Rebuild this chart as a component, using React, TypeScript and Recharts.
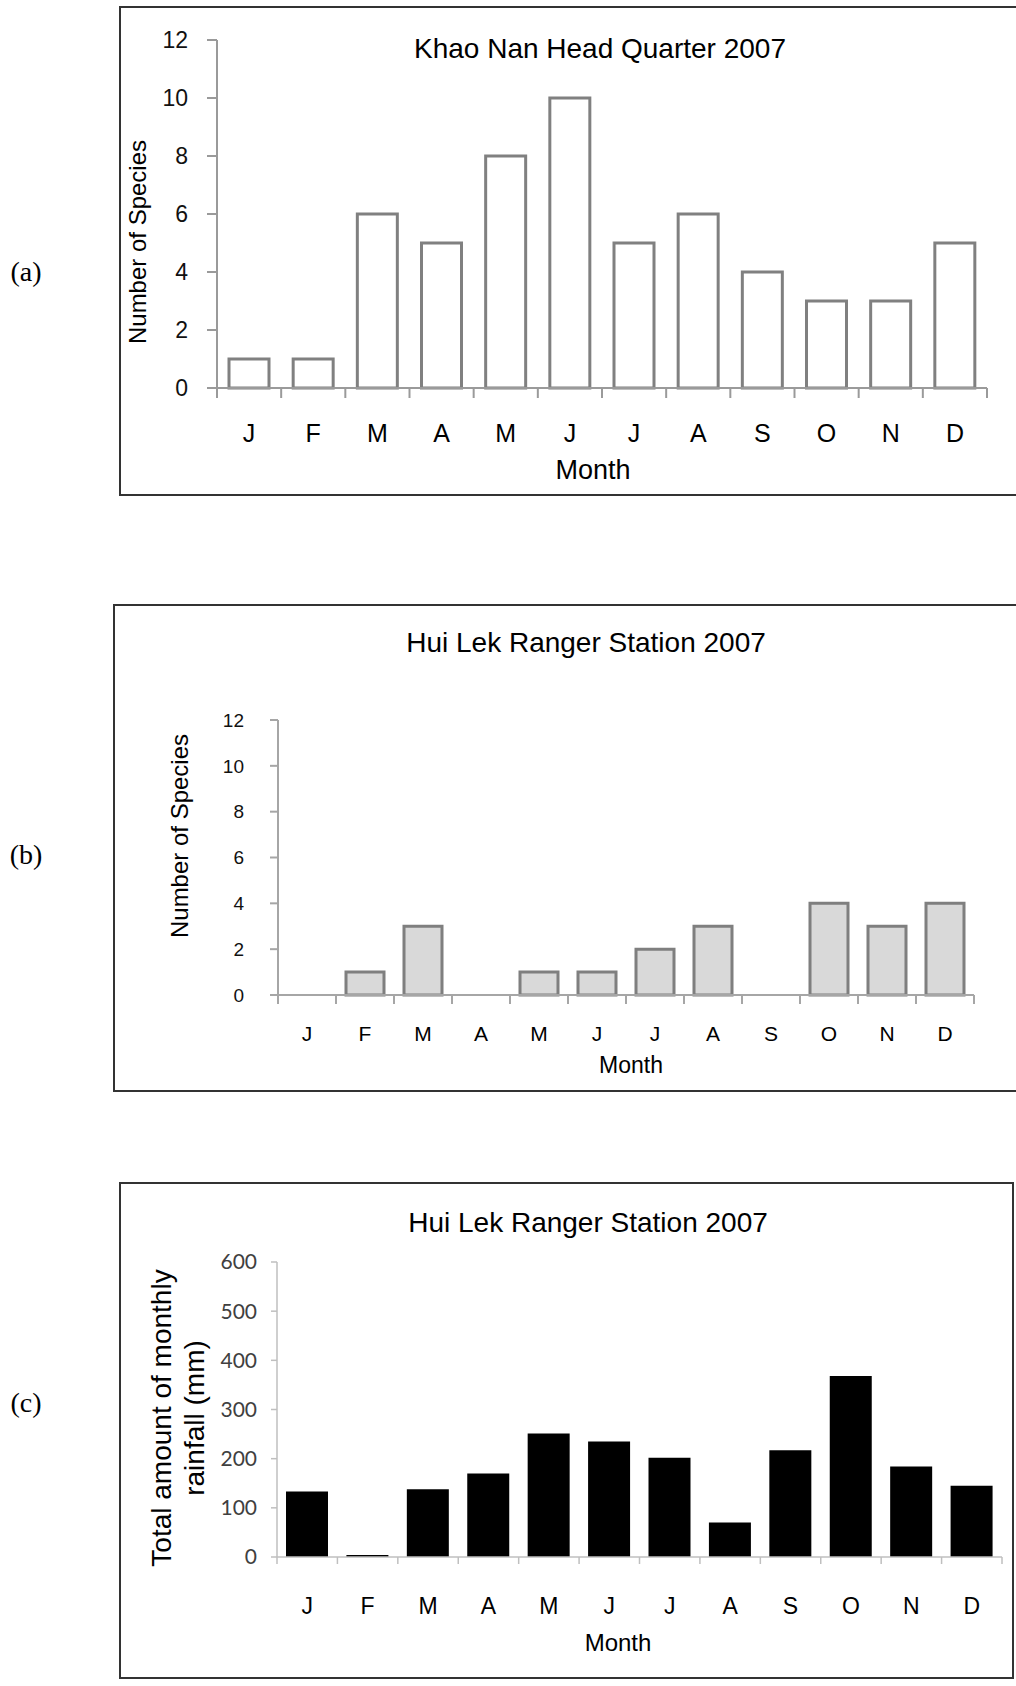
import React from "react";
import { Bar, BarChart, XAxis, YAxis } from "recharts";

const months = ["J", "F", "M", "A", "M", "J", "J", "A", "S", "O", "N", "D"];
const khaoNanSpecies = [1, 1, 6, 5, 8, 10, 5, 6, 4, 3, 3, 5];
const huiLekSpecies = [0, 1, 3, 0, 1, 1, 2, 3, 0, 4, 3, 4];
const huiLekRainfall = [133, 4, 138, 170, 251, 235, 202, 70, 217, 368, 184, 145];
const speciesTicks = [0, 2, 4, 6, 8, 10, 12];
const rainfallTicks = [0, 100, 200, 300, 400, 500, 600];

const sans = "'Liberation Sans', Arial, sans-serif";

type Rect = { left: number; top: number; right: number; bottom: number };

type PanelProps = {
  letter: string;
  letterY: number;
  box: Rect;
  closed: boolean;
  plot: Rect;
  values: number[];
  ticks: number[];
  barSize: number;
  barFill: string;
  barStroke?: string;
  axisColor: string;
  axisWidth: number;
  yTickSize: number;
  yTickMargin: number;
  yTickFont: { size: number; family: string; color: string };
  xTickLen: number;
  monthOffset: number;
  monthFont: number;
  title: string;
  titleX: number;
  titleY: number;
  yLabel: string[];
  yLabelX: number;
  yLabelY: number;
  yLabelFont: number;
  yLabelLine?: number;
  xLabelX: number;
  xLabelY: number;
  xLabelFont: number;
};

const centered: React.CSSProperties = {
  position: "absolute",
  transform: "translate(-50%, -50%)",
  whiteSpace: "nowrap",
  lineHeight: 1,
  fontFamily: sans,
  color: "#000"
};

function Panel(p: PanelProps) {
  const rows = months.map((m, i) => ({ idx: i, month: m, value: p.values[i] }));
  const width = (p.closed ? p.box.right : 1016) - p.box.left;
  const height = p.box.bottom - p.box.top;
  const bandWidth = (p.plot.right - p.plot.left) / months.length;

  const renderMonthTick = (props: any) => {
    const { x, y, payload, index } = props;
    const left = x - bandWidth / 2;
    const right = x + bandWidth / 2;
    return (
      <g>
        <line x1={left} y1={y} x2={left} y2={y + p.xTickLen} stroke={p.axisColor} strokeWidth={p.axisWidth} />
        {index === months.length - 1 && (
          <line x1={right} y1={y} x2={right} y2={y + p.xTickLen} stroke={p.axisColor} strokeWidth={p.axisWidth} />
        )}
        <text
          x={x}
          y={y + p.monthOffset}
          textAnchor="middle"
          dominantBaseline="central"
          fontFamily={sans}
          fontSize={p.monthFont}
          fill="#000"
        >
          {months[payload.value]}
        </text>
      </g>
    );
  };

  return (
    <>
      <div style={{ ...centered, left: 26, top: p.letterY, fontFamily: "'Liberation Serif', 'Times New Roman', serif", fontSize: 28 }}>
        {p.letter}
      </div>
      <div
        style={{
          position: "absolute",
          left: p.box.left - 1,
          top: p.box.top - 1,
          width: width + (p.closed ? 2 : 1),
          height: height + 2,
          boxSizing: "border-box",
          borderTop: "2px solid #333",
          borderLeft: "2px solid #333",
          borderBottom: "2px solid #333",
          borderRight: p.closed ? "2px solid #333" : "none"
        }}
      />
      <div style={{ position: "absolute", left: p.box.left, top: p.box.top }}>
        <BarChart
          width={width}
          height={height}
          data={rows}
          margin={{ top: p.plot.top - p.box.top, right: p.box.left + width - p.plot.right, left: 0, bottom: 0 }}
        >
          <XAxis
            dataKey="idx"
            type="category"
            height={p.box.bottom - p.plot.bottom}
            interval={0}
            tickSize={0}
            tickMargin={0}
            tickLine={false}
            axisLine={{ stroke: p.axisColor, strokeWidth: p.axisWidth }}
            tick={renderMonthTick}
          />
          <YAxis
            width={p.plot.left - p.box.left}
            domain={[p.ticks[0], p.ticks[p.ticks.length - 1]]}
            ticks={p.ticks}
            interval={0}
            tickSize={p.yTickSize}
            tickMargin={p.yTickMargin}
            axisLine={{ stroke: p.axisColor, strokeWidth: p.axisWidth }}
            tickLine={{ stroke: p.axisColor, strokeWidth: p.axisWidth }}
            tick={{ fill: p.yTickFont.color, fontSize: p.yTickFont.size, fontFamily: p.yTickFont.family }}
          />
          <Bar
            dataKey="value"
            barSize={p.barSize}
            fill={p.barFill}
            stroke={p.barStroke ?? "none"}
            strokeWidth={p.barStroke ? 3 : 0}
            isAnimationActive={false}
          />
        </BarChart>
      </div>
      <div style={{ ...centered, left: p.titleX, top: p.titleY, fontSize: 28 }}>{p.title}</div>
      <div
        style={{
          ...centered,
          left: p.yLabelX,
          top: p.yLabelY,
          fontSize: p.yLabelFont,
          textAlign: "center",
          lineHeight: p.yLabelLine ? `${p.yLabelLine}px` : 1,
          transform: "translate(-50%, -50%) rotate(-90deg)"
        }}
      >
        {p.yLabel.map((line) => (
          <div key={line}>{line}</div>
        ))}
      </div>
      <div style={{ ...centered, left: p.xLabelX, top: p.xLabelY, fontSize: p.xLabelFont }}>Month</div>
    </>
  );
}

export default function App() {
  return (
    <div style={{ position: "absolute", left: 0, top: 0, width: 1016, height: 1686, background: "#fff" }}>
      <Panel
        letter="(a)"
        letterY={272}
        box={{ left: 120, top: 7, right: 1016, bottom: 495 }}
        closed={false}
        plot={{ left: 217, top: 40, right: 987, bottom: 388 }}
        values={khaoNanSpecies}
        ticks={speciesTicks}
        barSize={40}
        barFill="#ffffff"
        barStroke="#808080"
        axisColor="#9a9a9a"
        axisWidth={2}
        yTickSize={10}
        yTickMargin={19}
        yTickFont={{ size: 23, family: sans, color: "#111" }}
        xTickLen={10}
        monthOffset={45}
        monthFont={25}
        title="Khao Nan Head Quarter 2007"
        titleX={600}
        titleY={49}
        yLabel={["Number of Species"]}
        yLabelX={138}
        yLabelY={242}
        yLabelFont={24}
        xLabelX={593}
        xLabelY={470}
        xLabelFont={27}
      />
      <Panel
        letter="(b)"
        letterY={855}
        box={{ left: 114, top: 605, right: 1016, bottom: 1091 }}
        closed={false}
        plot={{ left: 278, top: 720, right: 974, bottom: 995 }}
        values={huiLekSpecies}
        ticks={speciesTicks}
        barSize={38}
        barFill="#d9d9d9"
        barStroke="#7f7f7f"
        axisColor="#a6a6a6"
        axisWidth={2}
        yTickSize={8}
        yTickMargin={26}
        yTickFont={{ size: 19, family: sans, color: "#111" }}
        xTickLen={9}
        monthOffset={38}
        monthFont={21}
        title="Hui Lek Ranger Station 2007"
        titleX={586}
        titleY={643}
        yLabel={["Number of Species"]}
        yLabelX={180}
        yLabelY={836}
        yLabelFont={24}
        xLabelX={631}
        xLabelY={1065}
        xLabelFont={23}
      />
      <Panel
        letter="(c)"
        letterY={1403}
        box={{ left: 120, top: 1183, right: 1013, bottom: 1678 }}
        closed={true}
        plot={{ left: 277, top: 1262, right: 1002, bottom: 1557 }}
        values={huiLekRainfall}
        ticks={rainfallTicks}
        barSize={42}
        barFill="#000000"
        axisColor="#bfbfbf"
        axisWidth={1.5}
        yTickSize={6}
        yTickMargin={14}
        yTickFont={{ size: 21, family: "Lato, 'Open Sans', sans-serif", color: "#404040" }}
        xTickLen={7}
        monthOffset={49}
        monthFont={23}
        title="Hui Lek Ranger Station 2007"
        titleX={588}
        titleY={1223}
        yLabel={["Total amount of monthly", "rainfall (mm)"]}
        yLabelX={178}
        yLabelY={1418}
        yLabelFont={28}
        yLabelLine={33}
        xLabelX={618}
        xLabelY={1643}
        xLabelFont={24}
      />
    </div>
  );
}
